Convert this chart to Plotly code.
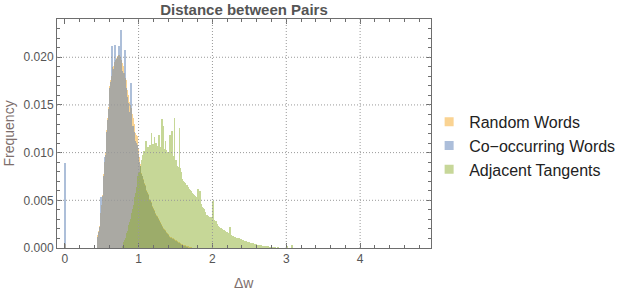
import numpy as np
import plotly.graph_objects as go

# ---------------- data (frequency per 0.01-wide bin, in units of 1e-4) -------------
bin_width = 0.01

random_start = 0.44
random_words_e4 = [
    5, 14, 18, 23, 30, 37, 45, 56, 64, 78,
    90, 100, 112, 124, 136, 148, 162, 170, 176, 180,
    187, 190, 191, 194, 195, 197, 199, 200, 201, 202,
    200, 199, 197, 194, 191, 188, 184, 178, 176, 174,
    166, 160, 156, 153, 150, 147, 145, 140, 136, 130,
    125, 121, 119, 117, 112, 104, 95, 88, 83, 79,
    76, 72, 70, 68, 66, 63, 61, 59, 57, 54,
    51, 50, 48, 46, 44, 42, 40, 39, 37, 35,
    34, 32, 31, 29, 27, 26, 25, 23, 22, 21,
    20, 19, 18, 17, 16, 15, 14, 13, 12, 12,
    11, 10, 10, 9, 9, 8, 8, 7, 7, 6,
    6, 5, 5, 4, 4, 4, 3, 3, 3, 2,
    2, 2, 2, 1, 1, 1, 1,
]
random_zero_bin_e4 = 4

co_start = 0.44
co_occurring_e4 = [
    4, 12, 17, 22, 29, 54, 44, 55, 63, 76,
    95, 98, 110, 122, 134, 146, 168, 168, 174, 212,
    183, 186, 188, 192, 213, 196, 198, 199, 200, 212,
    199, 200, 229, 186, 183, 178, 175, 208, 168, 165,
    158, 152, 148, 140, 143, 173, 138, 126, 128, 122,
    115, 112, 110, 108, 104, 97, 90, 86, 82, 78,
    75, 71, 69, 67, 65, 62, 60, 58, 56, 53,
    50, 49, 47, 45, 43, 41, 39, 38, 36, 34,
    33, 31, 30, 28, 26, 25, 24, 22, 21, 20,
    19, 18, 17, 16, 15, 14, 13, 12, 11, 11,
    10, 9, 9, 8, 8, 7, 7, 6, 6, 5,
    5, 4, 4, 3, 3, 3, 2, 2, 2, 1,
    1, 1,
]
co_zero_bin_e4 = 89

adjacent_start = 0.78
adjacent_tangents_e4 = [
    2, 4, 6, 8, 11, 14, 16, 18, 20, 24,
    27, 30, 33, 37, 41, 45, 49, 53, 58, 64,
    70, 75, 79, 80, 82, 86, 92, 98, 100, 102,
    100, 103, 112, 101, 106, 105, 103, 108, 106, 121,
    107, 109, 105, 116, 104, 110, 106, 107, 104, 119,
    105, 103, 106, 135, 104, 128, 102, 104, 112, 103,
    99, 101, 98, 100, 118, 97, 99, 123, 96, 93,
    136, 91, 92, 88, 86, 85, 82, 126, 84, 80,
    72, 71, 70, 69, 68, 67, 66, 66, 64, 63,
    62, 61, 60, 59, 58, 57, 56, 56, 55, 54,
    54, 53, 62, 52, 51, 60, 46, 43, 42, 42,
    41, 38, 36, 35, 35, 34, 34, 33, 33, 33,
    32, 32, 49, 30, 29, 28, 28, 27, 25, 23,
    22, 22, 21, 21, 20, 20, 19, 19, 18, 18,
    17, 17, 16, 16, 15, 22, 15, 14, 13, 13,
    12, 12, 12, 11, 11, 11, 10, 10, 10, 9,
    9, 9, 8, 8, 7, 7, 7, 7, 6, 6,
    6, 6, 5, 5, 5, 5, 5, 4, 4, 4,
    4, 4, 3, 3, 3, 3, 3, 3, 2, 2,
    2, 2, 2, 2, 2, 1, 1, 2, 1, 1,
    1, 1, 1, 1, 0, 1, 0, 1, 0, 0,
    1, 0, 0, 0, 0, 0, 0, 0, 0, 0,
    0, 0, 2, 0, 0, 0, 0, 0, 0, 3,
]

series_names = ["Random Words", "Co\u2212occurring Words", "Adjacent Tangents"]
series_colors = ["rgb(245,168,40)", "rgb(94,129,181)", "rgb(143,176,50)"]
legend_colors = ["rgb(250,211,146)", "rgb(172,190,218)", "rgb(199,215,153)"]

x_tick_vals = [0, 1, 2, 3, 4]
y_tick_vals = [0.0, 0.005, 0.010, 0.015, 0.020]
y_tick_text = ["0.000", "0.005", "0.010", "0.015", "0.020"]

# ---------------- build bins ----------------
def bins(start, n):
    return np.round(start + np.arange(n) * bin_width, 2)

rw_x = np.concatenate([[0.0], bins(random_start, len(random_words_e4))])
rw_y = np.array([random_zero_bin_e4] + random_words_e4) * 1e-4
co_x = np.concatenate([[0.0], bins(co_start, len(co_occurring_e4))])
co_y = np.array([co_zero_bin_e4] + co_occurring_e4) * 1e-4
at_x = bins(adjacent_start, len(adjacent_tangents_e4))
at_y = np.array(adjacent_tangents_e4) * 1e-4

fig = go.Figure()
for xs, ys, name, col in [(rw_x, rw_y, series_names[0], series_colors[0]),
                          (co_x, co_y, series_names[1], series_colors[1]),
                          (at_x, at_y, series_names[2], series_colors[2])]:
    fig.add_trace(go.Bar(
        x=xs + bin_width / 2, y=ys, width=bin_width, name=name,
        marker=dict(color=col, line=dict(width=0)),
        opacity=0.5, showlegend=False, hoverinfo="x+y",
    ))

# legend entries as small squares
for name, col in zip(series_names, legend_colors):
    fig.add_trace(go.Scatter(
        x=[None], y=[None], mode="markers", name=name,
        marker=dict(symbol="square", size=9, color=col),
    ))

frame_col = "#6e6e6e"
grid_col = "#999999"
font_family = "Liberation Sans, Arial, sans-serif"

# dotted grid lines (not at zero)
for xv in x_tick_vals[1:]:
    fig.add_shape(type="line", xref="x", yref="paper", x0=xv, x1=xv, y0=0, y1=1,
                  line=dict(color=grid_col, width=1, dash="1px,2px"), layer="above")
for yv in y_tick_vals[1:]:
    fig.add_shape(type="line", xref="paper", yref="y", x0=0, x1=1, y0=yv, y1=yv,
                  line=dict(color=grid_col, width=1, dash="1px,2px"), layer="above")

fig.update_layout(
    width=619, height=291,
    margin=dict(l=57, r=188, t=19, b=43, autoexpand=False),
    paper_bgcolor="white", plot_bgcolor="white",
    barmode="overlay", bargap=0,
    font=dict(family=font_family, size=12, color="#555555"),
    title=dict(text="<b>Distance between Pairs</b>", x=244 / 619, xanchor="center",
               y=1 - 9.5 / 291, yanchor="middle",
               font=dict(size=15, color="#555555", family=font_family)),
    legend=dict(x=0.995, xanchor="left", y=(248.3 - 146) / 229.3, yanchor="middle",
                font=dict(size=16, color="#222222", family=font_family),
                itemsizing="trace", tracegroupgap=0, bgcolor="rgba(0,0,0,0)"),
    xaxis=dict(range=[-0.105, 4.96], tickvals=x_tick_vals, ticks="inside", ticklen=5,
               tickcolor=frame_col, showline=True, linecolor=frame_col, linewidth=1,
               mirror="allticks", showgrid=False, zeroline=False,
               tickfont=dict(size=12, color="#555555"),
               minor=dict(dtick=0.2, tick0=0, ticks="inside", ticklen=3, tickcolor=frame_col, showgrid=False)),
    yaxis=dict(range=[0, 0.02401], tickvals=y_tick_vals, ticktext=y_tick_text, ticks="inside", ticklen=5,
               tickcolor=frame_col, showline=True, linecolor=frame_col, linewidth=1,
               mirror="allticks", showgrid=False, zeroline=False,
               tickfont=dict(size=12, color="#555555"),
               minor=dict(dtick=0.001, tick0=0, ticks="inside", ticklen=3, tickcolor=frame_col, showgrid=False)),
    annotations=[
        dict(text="Frequency", xref="paper", yref="paper", x=(8 - 57) / 374, y=0.5,
             textangle=-90, showarrow=False, xanchor="center", yanchor="middle",
             font=dict(size=14, color="#7d6e6c", family=font_family)),
        dict(text="\u0394w", xref="paper", yref="paper", x=(244 - 57) / 374, y=-(283 - 248.3) / 229.3,
             showarrow=False, xanchor="center", yanchor="middle",
             font=dict(size=14, color="#7d6e6c", family=font_family)),
    ],
)

fig.write_html("out.html", config={"displayModeBar": False},
               post_script="document.body.style.margin='0px';document.body.style.overflow='hidden';")
